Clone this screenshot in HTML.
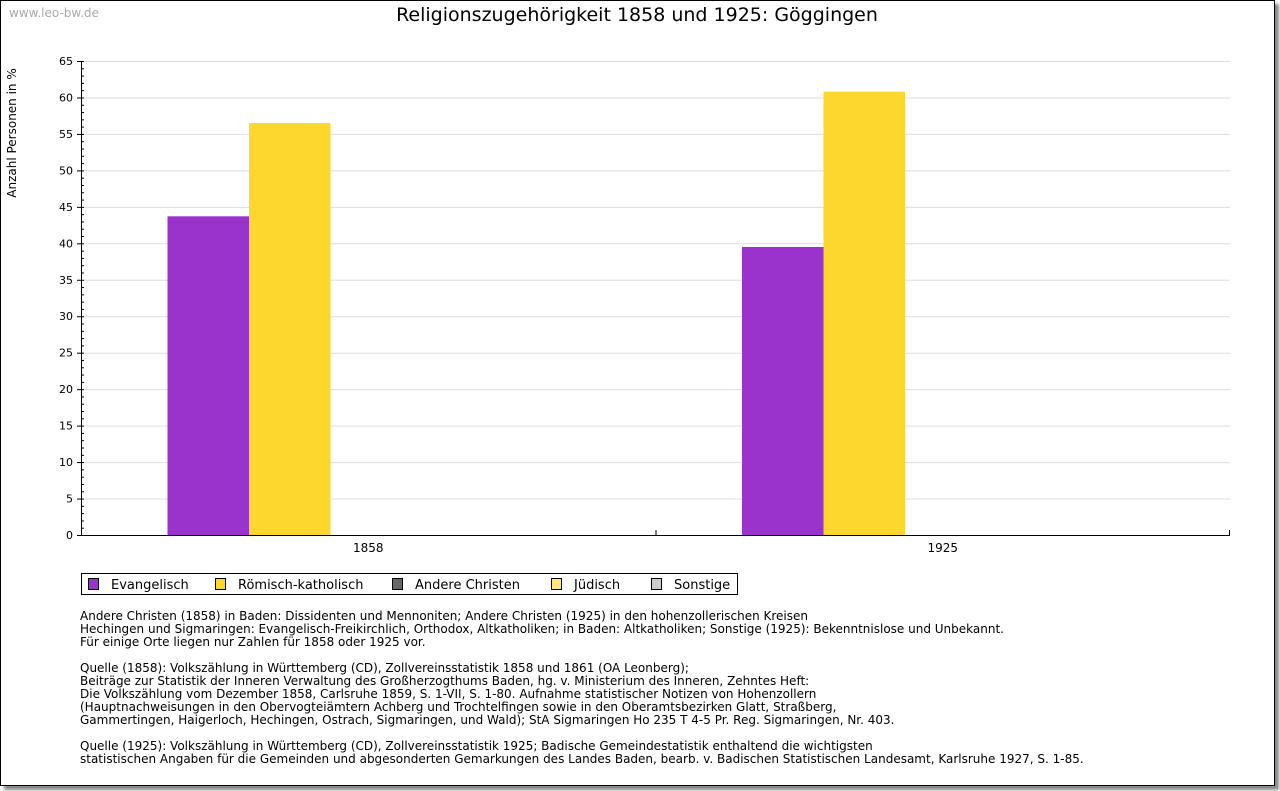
<!DOCTYPE html>
<html><head><meta charset="utf-8"><style>
body{margin:0;background:#fff;width:1280px;height:791px;overflow:hidden;font-family:"DejaVu Sans","Liberation Sans",sans-serif}
#frame{position:absolute;left:0;top:0;width:1273px;height:784px;border:1px solid #000;box-shadow:4px 4px 3px #888;background:#fff}
.notes{position:absolute;left:80px;font-size:12px;line-height:13px;color:#000;white-space:pre}
</style></head><body>
<div id="frame"></div>
<svg width="1280" height="791" style="position:absolute;left:0;top:0">
<text x="9" y="17" font-size="12" fill="#aaa" font-family="DejaVu Sans, sans-serif">www.leo-bw.de</text>
<text x="637" y="21" font-size="19" text-anchor="middle" font-family="DejaVu Sans, sans-serif">Religionszugehörigkeit 1858 und 1925: Göggingen</text>
<text transform="translate(16,133) rotate(-90)" font-size="12" text-anchor="middle" font-family="DejaVu Sans, sans-serif">Anzahl Personen in %</text>
<g id="grid"></g><g id="bars"></g><g id="axes"></g>
<g>
<rect x="81.5" y="573.5" width="656" height="21" fill="#fff" stroke="#000"/>
<g id="legend"></g></g>
</svg>
<div class="notes" style="top:610px">Andere Christen (1858) in Baden: Dissidenten und Mennoniten; Andere Christen (1925) in den hohenzollerischen Kreisen
Hechingen und Sigmaringen: Evangelisch-Freikirchlich, Orthodox, Altkatholiken; in Baden: Altkatholiken; Sonstige (1925): Bekenntnislose und Unbekannt.
Für einige Orte liegen nur Zahlen für 1858 oder 1925 vor.</div>
<div class="notes" style="top:662px">Quelle (1858): Volkszählung in Württemberg (CD), Zollvereinsstatistik 1858 und 1861 (OA Leonberg);
Beiträge zur Statistik der Inneren Verwaltung des Großherzogthums Baden, hg. v. Ministerium des Inneren, Zehntes Heft:
Die Volkszählung vom Dezember 1858, Carlsruhe 1859, S. 1-VII, S. 1-80. Aufnahme statistischer Notizen von Hohenzollern
(Hauptnachweisungen in den Obervogteiämtern Achberg und Trochtelfingen sowie in den Oberamtsbezirken Glatt, Straßberg,
Gammertingen, Haigerloch, Hechingen, Ostrach, Sigmaringen, und Wald); StA Sigmaringen Ho 235 T 4-5 Pr. Reg. Sigmaringen, Nr. 403.</div>
<div class="notes" style="top:740px">Quelle (1925): Volkszählung in Württemberg (CD), Zollvereinsstatistik 1925; Badische Gemeindestatistik enthaltend die wichtigsten
statistischen Angaben für die Gemeinden und abgesonderten Gemarkungen des Landes Baden, bearb. v. Badischen Statistischen Landesamt, Karlsruhe 1927, S. 1-85.</div>
<script>
const categories=["1858","1925"];
const seriesNames=["Evangelisch","Römisch-katholisch","Andere Christen","Jüdisch","Sonstige"];
const evangelisch=[43.7,39.5];
const katholisch=[56.5,60.8];
const andere=[0,0];
const juedisch=[0,0];
const sonstige=[0,0];
const yTicks=[0,5,10,15,20,25,30,35,40,45,50,55,60,65];
const colors=["#9933cc","#fdd62e","#666666","#ffe680","#cccccc"];
const series=[evangelisch,katholisch,andere,juedisch,sonstige];
const NS="http://www.w3.org/2000/svg";
const L=81,R=1230,T=61,B=535,yMax=65;
const y=v=>B-(v/yMax)*(B-T);
const catW=(R-L)/categories.length, barW=81.5;
function mk(t,a,p){const e=document.createElementNS(NS,t);for(const k in a)e.setAttribute(k,a[k]);p.appendChild(e);return e;}
const grid=document.getElementById('grid'),bars=document.getElementById('bars'),axes=document.getElementById('axes'),leg=document.getElementById('legend');
yTicks.forEach(t=>{
 if(t>0){const l=mk('line',{x1:L,x2:R,y1:y(t)+.5,y2:y(t)+.5,stroke:'#ddd'},grid);}
 const tx=mk('text',{x:L-8,y:y(t)+4,'font-size':11,'text-anchor':'end'},axes);tx.textContent=t;
 
 mk('line',{x1:L-4,x2:L,y1:y(t)+.5,y2:y(t)+.5,stroke:'#000'},axes);
});
for(let v=0;v<=yMax;v++)mk('line',{x1:L,x2:L+3,y1:y(v)+.5,y2:y(v)+.5,stroke:'#000'},axes);
categories.forEach((c,i)=>{
 const cx=L+catW*(i+.5), x0=cx-barW*series.length/2+3;
 series.forEach((s,j)=>{
  if(s[i]<=0)return;
  const r=mk('rect',{x:x0+j*barW,y:y(s[i]),width:barW,height:B-y(s[i]),fill:colors[j]},bars);
  
 });
 const tx=mk('text',{x:cx,y:B+17,'font-size':12,'text-anchor':'middle'},axes);tx.textContent=c;
 
 if(i>0)mk('line',{x1:L+catW*i+.5,x2:L+catW*i+.5,y1:B-5,y2:B,stroke:'#000'},axes);
});
mk('line',{x1:R-.5,x2:R-.5,y1:B-5,y2:B,stroke:'#000'},axes);
mk('line',{x1:L+.5,x2:L+.5,y1:T,y2:B,stroke:'#000'},axes);
mk('line',{x1:L,x2:R,y1:B+.5,y2:B+.5,stroke:'#000'},axes);
const lx=[88,215,392,551,651];
seriesNames.forEach((n,j)=>{
 const g=mk('g',{},leg);
 mk('rect',{x:lx[j]+.5,y:578.5,width:10,height:11,fill:colors[j],stroke:'#000'},g);
 const t=mk('text',{x:lx[j]+23,y:589,'font-size':13},g);t.textContent=n;
});
</script>
</body></html>
